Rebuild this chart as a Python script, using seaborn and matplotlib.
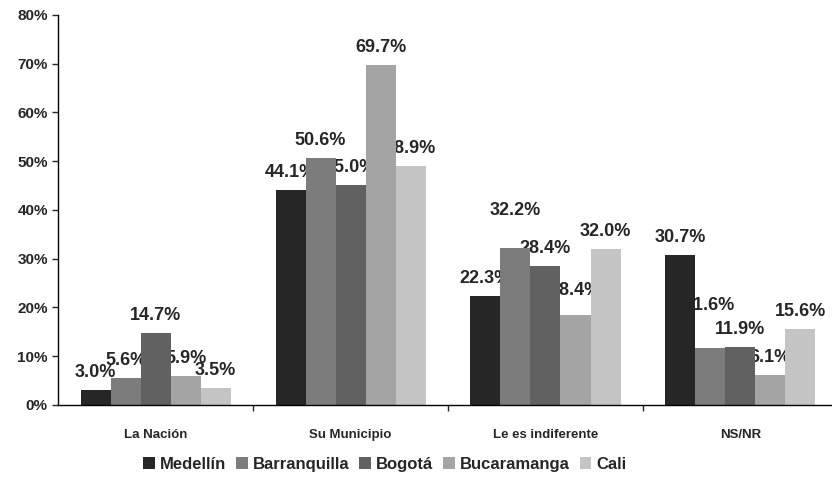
import matplotlib
matplotlib.use("Agg")
import matplotlib.pyplot as plt
import pandas as pd
import seaborn as sns
from matplotlib.ticker import FixedLocator, PercentFormatter

CATEGORIES = ["La Nación", "Su Municipio", "Le es indiferente", "NS/NR"]
CITIES = ["Medellín", "Barranquilla", "Bogotá", "Bucaramanga", "Cali"]
MEDELLIN = [3.0, 44.1, 22.3, 30.7]
BARRANQUILLA = [5.6, 50.6, 32.2, 11.6]
BOGOTA = [14.7, 45.0, 28.4, 11.9]
BUCARAMANGA = [5.9, 69.7, 18.4, 6.1]
CALI = [3.5, 48.9, 32.0, 15.6]

CITY_COLORS = ["#262626", "#7c7c7c", "#616161", "#a4a4a4", "#c4c4c4"]
LABEL_PAD = 6.5  # points above bar top
# a few labels were nudged further up in the original (city, category) -> extra points
LABEL_LIFT = {
	("Barranquilla", "Le es indiferente"): 14,
	("Bucaramanga", "Le es indiferente"): 5,
	("Barranquilla", "NS/NR"): 18,
}


def build_frame() -> pd.DataFrame:
	series = [MEDELLIN, BARRANQUILLA, BOGOTA, BUCARAMANGA, CALI]
	rows = []
	for city, values in zip(CITIES, series, strict=True):
		for cat, val in zip(CATEGORIES, values, strict=True):
			rows.append({"categoria": cat, "ciudad": city, "valor": val})
	return pd.DataFrame(rows)


def main() -> None:
	df = build_frame()
	sns.set_theme(style="white")
	plt.rcParams["font.family"] = ["Liberation Sans", "DejaVu Sans"]

	fig = plt.figure(figsize=(8.32, 4.92), dpi=100)
	ax = fig.add_axes([0.07, 0.177, 0.937, 0.793])

	sns.barplot(
		data=df,
		x="categoria",
		y="valor",
		hue="ciudad",
		order=CATEGORIES,
		hue_order=CITIES,
		palette=CITY_COLORS,
		width=0.77,
		gap=0,
		saturation=1,
		edgecolor="none",
		ax=ax,
	)

	# labels sit behind the bars, like the original chart
	for city, container in zip(CITIES, ax.containers, strict=True):
		for bar in container:
			bar.set_zorder(2)
		texts = ax.bar_label(container, fmt="%.1f%%", padding=LABEL_PAD, fontsize=13, fontweight="bold")
		for cat, t in zip(CATEGORIES, texts, strict=True):
			t.set_zorder(1)
			t.xyann = (0, LABEL_PAD + LABEL_LIFT.get((city, cat), 0))

	ax.set_xlim(-0.5, 3.5)
	ax.set_ylim(0, 80)
	ax.yaxis.set_major_locator(FixedLocator(range(0, 81, 10)))
	ax.yaxis.set_major_formatter(PercentFormatter(decimals=0))
	ax.tick_params(axis="y", labelsize=11, length=4, direction="out", left=True, width=1)
	for lbl in ax.get_yticklabels():
		lbl.set_fontweight("bold")

	ax.set_xticks([0.5, 1.5, 2.5], minor=True)
	ax.tick_params(axis="x", which="minor", length=4, direction="out", bottom=True)
	ax.tick_params(axis="x", which="major", length=0, labelsize=9.5, pad=17)
	for lbl in ax.get_xticklabels():
		lbl.set_fontweight("bold")

	ax.set_xlabel("")
	ax.set_ylabel("")
	sns.despine(ax=ax, top=True, right=True)
	for side in ("left", "bottom"):
		ax.spines[side].set_color("black")
		ax.spines[side].set_linewidth(1)

	ax.legend(
		loc="upper center",
		bbox_to_anchor=(0.419, -0.095),
		ncol=5,
		frameon=False,
		prop={"weight": "bold", "size": 12},
		handlelength=0.7,
		handleheight=0.7,
		handletextpad=0.3,
		columnspacing=0.6,
	)

	fig.savefig("out.png", dpi=100)
	plt.close(fig)


if __name__ == "__main__":
	main()
